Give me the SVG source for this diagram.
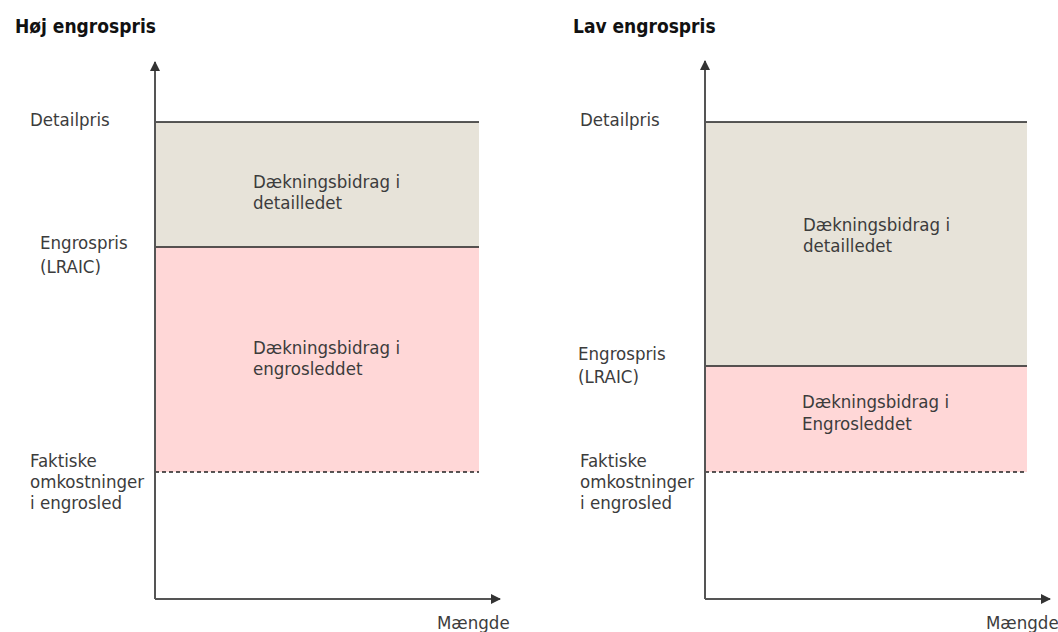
<svg xmlns="http://www.w3.org/2000/svg" width="1058" height="632" viewBox="0 0 1058 632">
<style>
text{font-family:'DejaVu Sans Condensed','DejaVu Sans',sans-serif;font-stretch:condensed;font-size:18.5px;fill:#3c3c3c}
.title{font-weight:bold;font-size:19px;fill:#111}
.axis{stroke:#555;stroke-width:2;fill:none}
.level{stroke:#222;stroke-width:1.3;fill:none}
.dash{stroke:#222;stroke-width:1.3;stroke-dasharray:4 3;fill:none}
.beige{fill:#E7E3D9}
.pink{fill:#FFD7D7}
</style>
<defs>
<marker id="arr" viewBox="0 0 10 10" refX="9" refY="5" markerWidth="10" markerHeight="10" markerUnits="userSpaceOnUse" orient="auto">
<path d="M0,0 L10,5 L0,10 z" fill="#333"/>
</marker>
</defs>
<rect width="1058" height="632" fill="#fff"/>

<g id="chart-left">
<text class="title" x="15" y="33">Høj engrospris</text>
<rect id="left-detail-area" class="beige" x="155" y="122" width="324" height="125"/>
<rect id="left-engros-area" class="pink" x="155" y="247" width="324" height="225"/>
<text x="253" y="188">Dækningsbidrag i</text>
<text x="253" y="208.5">detailledet</text>
<text x="253" y="354">Dækningsbidrag i</text>
<text x="253" y="375">engrosleddet</text>
<text x="30" y="126">Detailpris</text>
<text x="40" y="249">Engrospris</text>
<text x="40" y="273">(LRAIC)</text>
<text x="30" y="467">Faktiske</text>
<text x="30" y="488">omkostninger</text>
<text x="30" y="508.5">i engrosled</text>
<text x="437" y="628.5">Mængde</text>
</g>

<g id="chart-right">
<text class="title" x="573" y="33">Lav engrospris</text>
<rect id="right-detail-area" class="beige" x="705" y="122" width="322" height="244"/>
<rect id="right-engros-area" class="pink" x="705" y="366" width="322" height="106"/>
<text x="803" y="231">Dækningsbidrag i</text>
<text x="803" y="252">detailledet</text>
<text x="802" y="408">Dækningsbidrag i</text>
<text x="802" y="430">Engrosleddet</text>
<text x="580" y="126">Detailpris</text>
<text x="578" y="360">Engrospris</text>
<text x="578" y="383">(LRAIC)</text>
<text x="580" y="467">Faktiske</text>
<text x="580" y="488">omkostninger</text>
<text x="580" y="509">i engrosled</text>
<text x="986" y="629">Mængde</text>
</g>

<g id="connectors">
<line class="level" x1="155" y1="122" x2="479" y2="122"/>
<line class="level" x1="155" y1="247" x2="479" y2="247"/>
<line class="dash" x1="155" y1="472" x2="479" y2="472"/>
<path class="axis" d="M155,599 L155,62" marker-end="url(#arr)"/>
<path class="axis" d="M155,599 L500,599" marker-end="url(#arr)"/>
<line class="level" x1="705" y1="122" x2="1027" y2="122"/>
<line class="level" x1="705" y1="366" x2="1027" y2="366"/>
<line class="dash" x1="705" y1="472" x2="1027" y2="472"/>
<path class="axis" d="M705,599 L705,61" marker-end="url(#arr)"/>
<path class="axis" d="M705,599 L1050,599" marker-end="url(#arr)"/>
</g>
</svg>
